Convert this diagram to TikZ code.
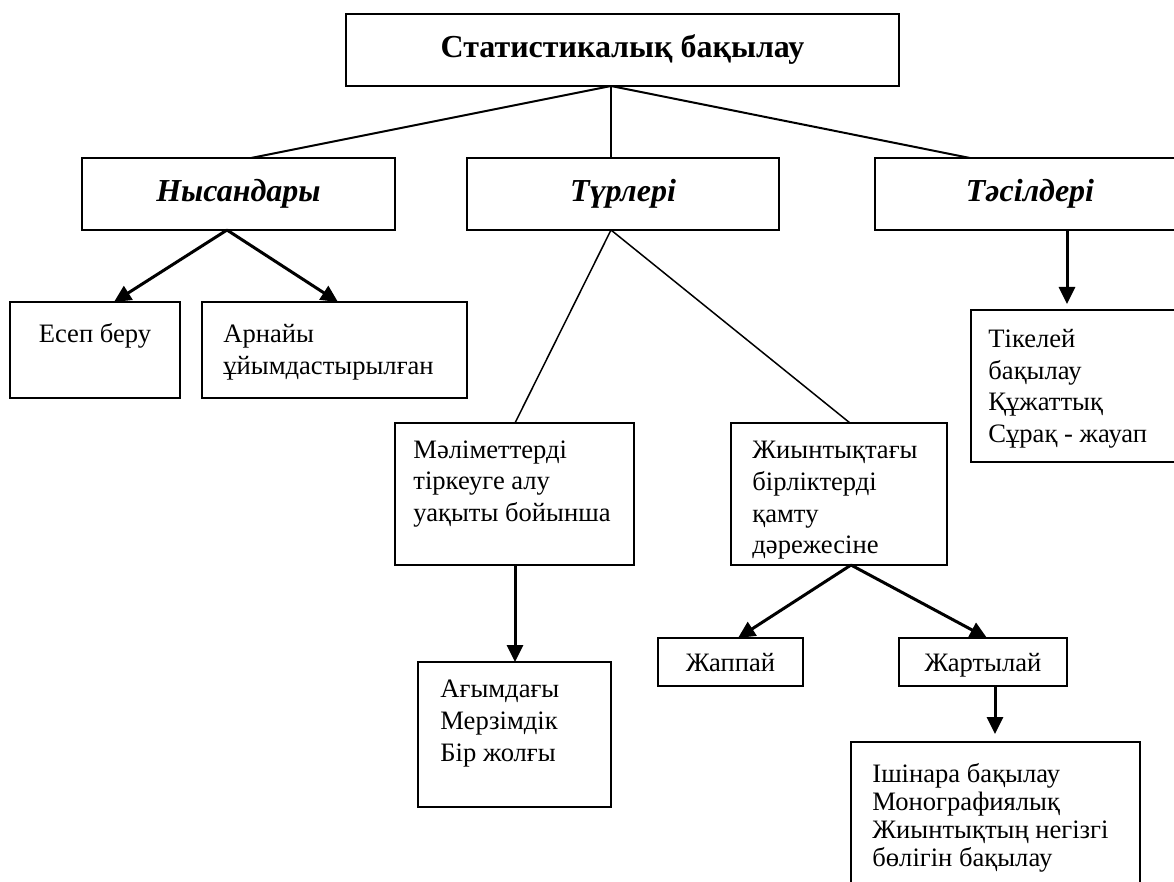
\documentclass[tikz,border=0pt]{standalone}
\usepackage{fontspec}
\setmainfont{Liberation Serif}
\usetikzlibrary{arrows.meta}
\tikzstyle{box}=[rectangle,draw,line width=1pt,inner sep=0pt]
\tikzstyle{head}=[font=\fontsize{16}{19}\selectfont\bfseries\itshape]
\tikzstyle{txt}=[inner sep=0pt,align=left,font=\fontsize{13.3}{15.8}\selectfont]
\tikzstyle{link}=[line width=1pt]
\tikzstyle{thinlink}=[line width=0.75pt]
\tikzstyle{arr}=[line width=1.5pt,-{Triangle[length=8.5pt,width=8pt]}]

\begin{document}
\begin{tikzpicture}[x=0.5pt,y=-0.5pt]
\clip (0,0) rectangle (1174,882);
\fill[white] (0,0) rectangle (1174,882);

%top
\node[box,minimum width=276.5pt,minimum height=36pt,font=\fontsize{16}{19}\selectfont\bfseries] (stat) at (622.5,50) {Статистикалық бақылау};

%headers
\foreach \pos/\name/\w/\label in {{(238.5,194)/nys/156.5/Нысандары}, {(623,194)/tur/156/Түрлері}, {(1030,194)/tas/155/Тәсілдері}}
    \node[box,head,minimum width=\w pt,minimum height=36pt] (\name) at \pos {\label};

%boxes
\foreach \pos/\name/\w/\h in {{(95,350)/esep/85/48}, {(334.5,350)/arn/132.5/48}, {(514.5,494)/mal/119.5/71}, {(839,494)/zhi/108/71}, {(1078,386)/tik/107/76}, {(514.5,734.5)/agym/96.5/72.5}, {(995.5,821)/ish/144.5/79}}
    \node[box,minimum width=\w pt,minimum height=\h pt] (\name) at \pos {};

\node[box,txt,minimum width=72.5pt,minimum height=24pt,text height=11pt,text depth=2pt] (zhap) at (730.5,662) {Жаппай};
\node[box,txt,minimum width=84pt,minimum height=24pt,text height=11pt,text depth=2pt] (zhart) at (983,662) {Жартылай};

%texts
\node[txt,anchor=north] (esep-t) at (95,323) {Есеп беру};
\foreach \pos/\name/\t in {{(223,324)/arn/{Арнайы\\ұйымдастырылған}}, {(413,440)/mal/{Мәліметтерді\\тіркеуге алу\\уақыты бойынша}}, {(752,441)/zhi/{Жиынтықтағы\\бірліктерді\\қамту\\дәрежесіне}}, {(988,329)/tik/{Тікелей\\бақылау\\Құжаттық\\Сұрақ - жауап}}, {(440,680)/agym/{Ағымдағы\\Мерзімдік\\Бір жолғы}}}
    \node[txt,anchor=north west] (\name-t) at \pos {\t};
\node[txt,anchor=north west,font=\fontsize{13.3}{14}\selectfont] (ish-t) at (872,763) {Ішінара бақылау\\Монографиялық\\Жиынтықтың негізгі\\бөлігін бақылау};

%connectors
\coordinate (stat-b) at (611,86);
\coordinate (nys-in) at (251,158);
\coordinate (tur-in) at (611,158);
\coordinate (tas-in) at (970,158);
\coordinate (nys-b) at (227,230);
\coordinate (esep-in) at (114,302);
\coordinate (arn-in) at (338,302);
\coordinate (tur-b) at (611,230);
\coordinate (mal-in) at (515,423);
\coordinate (zhi-in) at (850,423);
\coordinate (tas-b) at (1067,230);
\coordinate (tik-in) at (1067,304);
\coordinate (mal-b) at (515,565);
\coordinate (agym-in) at (515,662);
\coordinate (zhi-b) at (851,565);
\coordinate (zhap-in) at (738,638);
\coordinate (zhart-in) at (987,638);
\coordinate (zhart-b) at (995,686);
\coordinate (ish-in) at (995,734);

\foreach \source/\dest in {stat-b/nys-in, stat-b/tur-in, stat-b/tas-in}
    \draw[link] (\source) -- (\dest);
\foreach \source/\dest in {tur-b/mal-in, tur-b/zhi-in}
    \draw[thinlink] (\source) -- (\dest);
\foreach \source/\dest in {nys-b/esep-in, nys-b/arn-in, tas-b/tik-in, mal-b/agym-in, zhi-b/zhap-in, zhi-b/zhart-in, zhart-b/ish-in}
    \draw[arr] (\source) -- (\dest);

\end{tikzpicture}
\end{document}
